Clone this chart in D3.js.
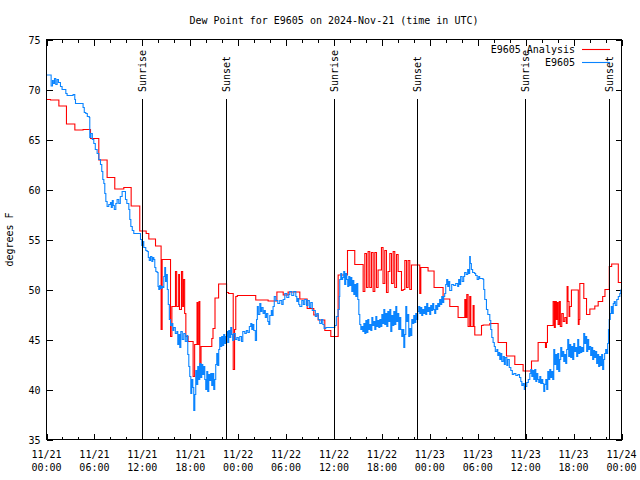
<!DOCTYPE html>
<html><head><meta charset="utf-8">
<script src="https://cdn.jsdelivr.net/npm/d3@7"></script>
<style>
body{margin:0;background:#fff;}
svg{display:block;}
text{font-family:"DejaVu Sans Mono",monospace;font-size:10px;fill:#000;}
</style></head><body>
<svg id="c" width="640" height="480"></svg>
<script>
// ---- data (hours since 2024-11-21 00:00 UTC, degrees F) ----
const obsHours = [0.00,0.58,0.75,0.85,1.00,1.16,1.33,1.50,1.75,1.95,2.42,2.58,3.33,3.54,3.63,4.58,4.73,4.92,5.11,5.36,5.42,5.55,5.74,5.92,6.11,6.34,6.55,6.76,6.92,7.05,7.18,7.30,7.43,7.59,7.80,8.01,8.11,8.24,8.36,8.49,8.68,8.84,9.05,9.24,9.47,9.89,10.06,10.31,10.43,10.56,10.74,10.93,11.77,11.94,12.06,12.18,12.43,12.60,12.75,12.87,13.02,13.19,13.31,13.44,13.56,13.69,13.85,13.97,14.06,14.18,14.31,14.44,14.56,14.69,14.81,14.91,15.03,15.13,15.25,15.38,15.53,15.69,15.82,15.94,16.13,16.32,16.44,16.57,16.69,16.82,17.00,17.19,17.38,17.57,17.69,17.82,17.94,18.07,18.19,18.32,18.44,18.57,18.69,18.82,18.94,19.07,19.19,19.32,19.44,19.57,19.70,19.82,19.94,20.07,20.19,20.32,20.44,20.57,20.69,20.82,20.94,21.07,21.19,21.32,21.44,21.57,21.69,21.82,21.94,22.07,22.19,22.32,22.44,22.57,22.69,22.82,22.94,23.07,23.19,23.32,23.44,23.64,23.83,24.02,24.20,24.42,24.58,24.83,25.02,25.21,25.40,25.58,25.71,25.84,25.96,26.15,26.30,26.40,26.52,26.71,26.84,26.96,27.12,27.27,27.40,27.55,27.71,27.84,27.96,28.15,28.27,28.37,28.52,28.71,28.96,29.21,29.46,29.63,29.84,30.09,30.34,30.46,30.71,30.96,31.22,31.34,31.46,31.59,31.72,31.97,32.16,32.34,32.56,32.72,32.91,33.09,33.28,33.47,33.66,33.85,34.03,34.22,34.44,34.60,34.76,34.97,36.10,36.29,36.51,36.66,36.72,36.85,36.97,37.09,37.22,37.34,37.47,37.60,37.72,37.85,37.98,38.10,38.23,38.36,38.48,38.61,38.73,38.86,38.98,39.11,39.23,39.36,39.49,39.61,39.74,39.86,39.99,40.11,40.24,40.36,40.49,40.61,40.74,40.86,40.99,41.11,41.24,41.36,41.49,41.61,41.74,41.86,41.99,42.11,42.24,42.36,42.49,42.61,42.74,42.86,42.99,43.11,43.24,43.36,43.49,43.61,43.74,43.86,43.99,44.11,44.24,44.36,44.49,44.61,44.74,44.86,44.99,45.11,45.24,45.36,45.49,45.61,45.74,45.86,45.99,46.11,46.24,46.36,46.49,46.61,46.74,46.86,46.99,47.11,47.24,47.36,47.49,47.61,47.74,47.86,47.99,48.11,48.24,48.36,48.49,48.61,48.74,48.86,48.99,49.11,49.23,49.36,49.49,49.61,49.74,49.86,49.99,50.11,50.24,50.36,50.49,50.74,50.99,51.24,51.49,51.61,51.74,51.86,52.05,52.24,52.36,52.55,52.74,52.86,52.99,53.07,53.20,53.36,53.61,53.74,53.93,54.12,54.24,54.49,54.67,54.75,54.88,55.09,55.26,55.51,55.63,55.76,55.92,56.07,56.20,56.39,56.51,56.64,56.76,56.89,57.01,57.18,57.33,57.45,57.64,57.76,57.95,58.14,58.33,58.52,58.77,59.02,59.23,59.39,59.52,59.68,59.83,59.93,60.14,60.33,60.52,60.64,60.77,60.89,61.02,61.14,61.27,61.39,61.52,61.64,61.77,61.89,62.02,62.14,62.27,62.39,62.52,62.64,62.77,62.89,63.02,63.14,63.27,63.39,63.52,63.64,63.77,63.89,64.02,64.14,64.27,64.39,64.52,64.64,64.77,64.89,65.02,65.14,65.27,65.39,65.52,65.64,65.77,65.89,66.02,66.14,66.27,66.39,66.52,66.64,66.77,66.89,67.02,67.14,67.27,67.39,67.52,67.64,67.77,67.89,67.99,68.14,68.27,68.39,68.52,68.64,68.77,68.89,69.02,69.14,69.27,69.39,69.52,69.64,69.77,69.89,70.02,70.14,70.27,70.37,70.46,70.59,70.72,70.84,70.97,71.09,71.22,71.41,71.60,71.79,71.91];
const obsValues = [71.45,70.35,70.9,70.6,71.1,70.5,71.0,70.7,70.3,70.0,69.6,69.4,69.5,69.0,68.6,68.2,67.7,67.6,67.3,67.2,65.2,65.6,65.0,64.6,64.0,63.6,63.0,62.5,61.8,61.0,60.6,59.6,58.8,58.3,58.5,58.7,58.2,58.9,58.4,58.0,58.6,59.0,58.6,59.3,59.8,59.0,58.6,58.0,57.0,56.3,55.9,55.6,55.0,54.4,54.8,54.2,53.9,53.8,53.2,52.9,53.3,52.8,53.2,53.0,52.2,51.8,51.7,50.3,50.0,50.4,50.1,50.3,50.2,51.3,52.2,50.8,51.5,50.0,48.5,47.0,46.4,46.6,45.9,46.2,45.6,45.8,44.5,45.5,44.2,45.8,45.0,45.6,44.8,45.4,43.5,42.3,41.3,39.6,41.0,40.2,37.9,39.5,41.9,40.5,42.3,41.0,42.6,41.2,42.5,41.5,42.3,41.0,40.0,41.8,39.8,41.5,40.9,41.6,40.4,41.6,40.0,41.0,42.5,43.6,42.4,44.0,45.2,44.3,45.3,44.4,45.5,44.6,45.3,45.8,44.7,45.9,45.2,46.2,45.5,44.9,45.6,45.0,45.2,44.9,45.3,44.8,45.8,45.6,45.9,45.7,46.3,46.6,46.0,46.5,45.9,44.9,47.0,48.3,47.5,48.6,47.8,48.2,47.6,47.9,47.2,47.6,46.8,46.5,47.4,47.9,47.4,48.3,49.3,48.9,48.6,48.9,48.5,49.0,49.6,49.2,49.5,49.8,49.4,49.8,49.3,48.8,49.1,48.5,48.3,48.9,48.5,49.0,48.4,48.9,48.2,48.7,47.9,47.9,47.3,47.6,47.0,46.6,47.0,46.5,46.1,46.2,46.4,47.3,48.0,49.3,51.0,51.6,51.0,51.2,51.8,50.5,51.6,51.0,50.3,51.3,50.4,51.2,49.8,50.9,49.5,50.5,49.3,50.6,49.0,47.5,46.5,46.0,46.3,45.8,46.6,45.6,46.9,45.7,47.0,46.0,46.5,45.9,47.2,46.4,46.8,46.0,47.3,46.3,46.9,46.2,47.0,46.3,47.5,46.6,48.0,46.5,47.6,46.3,47.8,46.8,48.0,45.8,47.4,46.4,47.8,46.5,48.3,46.8,47.6,46.0,47.2,46.0,45.3,46.0,44.2,45.5,48.3,46.8,47.5,45.3,46.1,45.4,47.0,46.6,47.4,46.7,47.6,47.0,47.8,48.3,47.6,48.2,47.4,48.0,47.6,48.3,47.5,48.6,47.8,48.2,47.5,48.4,47.9,48.6,48.0,47.6,48.4,48.0,48.6,48.3,49.0,48.5,49.3,48.7,49.3,49.6,50.5,51.0,50.3,50.8,49.9,50.5,50.4,50.6,50.3,51.0,50.5,51.3,50.8,51.3,51.7,51.5,52.0,51.6,53.3,52.6,52.0,51.7,51.6,51.4,51.0,51.3,51.1,51.1,51.0,50.0,49.0,48.0,47.5,46.9,46.0,45.2,44.7,44.3,43.8,44.0,43.4,43.7,43.0,43.6,42.8,43.3,42.5,43.2,42.4,43.0,42.2,41.9,41.5,41.6,41.4,41.5,41.2,40.8,40.4,40.6,40.0,40.3,40.7,41.0,41.6,42.0,41.3,41.9,41.0,42.0,40.8,41.6,41.0,40.7,41.3,40.6,41.0,40.6,39.8,40.5,41.0,40.0,41.8,41.0,42.0,41.2,41.8,41.0,44.0,42.5,43.5,42.0,43.6,41.8,43.0,44.2,43.3,43.8,42.8,43.5,42.6,44.0,45.0,43.3,44.5,43.2,44.3,43.0,44.6,43.8,44.2,43.3,45.0,43.6,44.3,43.7,44.2,43.8,45.6,44.6,45.3,43.8,45.0,44.0,44.3,43.4,44.2,43.0,43.9,43.2,43.8,42.6,43.5,42.3,43.3,42.4,43.5,42.0,43.0,43.6,44.0,43.6,44.6,46.0,47.0,47.6,48.3,47.6,48.6,48.8,48.4,49.0,49.3,49.6,50.0];

const anaHours = [0.00,0.50,1.55,2.50,3.55,4.58,5.51,6.55,7.59,8.55,9.68,10.60,11.68,12.48,12.81,13.65,14.35,14.48,15.53,15.70,16.05,16.15,16.30,16.55,16.65,16.90,17.05,17.15,17.30,17.45,17.73,18.36,18.55,18.85,18.95,19.10,19.20,19.35,20.70,20.85,21.10,21.55,22.55,22.80,23.38,23.55,23.70,23.90,26.20,27.75,28.85,29.64,30.25,31.72,32.64,33.47,34.02,34.85,35.60,36.52,37.69,38.60,39.65,39.86,40.07,40.27,40.48,40.69,40.90,41.11,41.32,41.52,41.94,42.14,42.36,42.57,42.77,42.99,43.20,43.41,43.61,43.83,44.03,44.45,44.65,44.87,45.08,45.28,45.49,45.70,46.74,46.87,47.78,48.53,49.66,50.50,51.54,52.38,52.50,52.63,52.79,53.00,53.13,53.42,53.54,53.63,54.47,54.67,55.51,56.55,57.60,58.64,59.68,60.73,61.56,62.48,62.60,62.73,63.44,63.59,63.71,63.84,63.96,64.06,64.21,64.34,64.52,64.71,64.90,65.09,65.19,65.30,65.43,65.52,65.73,66.59,66.69,66.78,67.28,67.62,68.04,68.66,69.08,69.64,69.93,70.47,70.77,71.60,72.00];
const anaValues = [69.0,68.95,68.35,66.55,65.95,66.0,65.1,62.95,61.2,60.05,60.2,58.35,55.85,55.6,55.05,54.35,46.0,53.0,45.3,48.3,48.3,51.8,48.3,51.5,48.0,51.8,48.3,51.0,47.6,45.3,44.8,41.3,44.5,48.7,44.5,48.8,42.3,44.3,45.1,46.1,49.15,50.55,49.7,49.6,42.0,46.0,49.3,49.4,48.95,48.85,49.75,49.45,49.75,49.05,48.1,47.45,46.95,45.9,45.3,51.45,53.9,52.5,49.8,53.6,50.2,53.8,50.2,53.7,49.8,53.7,50.2,51.95,54.2,50.6,53.9,49.7,51.8,53.6,50.6,53.8,50.2,53.5,51.8,49.9,50.0,52.9,50.2,52.9,50.0,52.45,49.6,52.2,51.85,50.2,49.05,48.3,47.2,49.0,47.2,49.5,46.3,49.3,46.3,48.4,46.3,45.45,46.4,46.45,46.6,44.7,43.35,42.5,41.85,42.85,44.7,44.2,44.7,46.4,48.8,46.2,48.8,47.0,48.7,46.5,48.8,46.3,47.6,46.8,47.2,46.6,50.3,48.8,47.3,48.3,49.95,46.5,47.0,50.6,49.1,47.5,48.05,48.35,48.8,49.3,50.0,52.3,52.55,50.7,50.7];

const sunHours = [11.97, 22.47, 36.00, 46.43, 59.95, 70.45];
const sunLabels = ["Sunrise","Sunset","Sunrise","Sunset","Sunrise","Sunset"];
const xTickHours = [0,6,12,18,24,30,36,42,48,54,60,66,72];
const xTickDates = ["11/21","11/21","11/21","11/21","11/22","11/22","11/22","11/22","11/23","11/23","11/23","11/23","11/24"];
const xTickTimes = ["00:00","06:00","12:00","18:00","00:00","06:00","12:00","18:00","00:00","06:00","12:00","18:00","00:00"];
const yTicks = [35,40,45,50,55,60,65,70,75];
const seriesNames = ["E9605 Analysis","E9605"];
const seriesColors = ["#ff0000","#0a84ff"];

// ---- chart ----
const svg = d3.select("#c");
const L = 46.5, R = 621.5, T = 39.5, B = 439.5;
const x = d3.scaleLinear().domain([0,72]).range([L,R]);
const y = d3.scaleLinear().domain([35,75]).range([B,T]);

svg.append("text").attr("x",(L+R)/2).attr("y",24).attr("text-anchor","middle")
  .text("Dew Point for E9605 on 2024-Nov-21 (time in UTC)");
svg.append("text").attr("transform",`translate(13,${(T+B)/2}) rotate(-90)`)
  .attr("text-anchor","middle").text("degrees F");

// axes (ticks inward, mirrored)
svg.append("g").attr("transform",`translate(0,${B})`)
  .call(d3.axisBottom(x).tickValues(xTickHours).tickSize(-6).tickFormat(""));
svg.append("g").attr("transform",`translate(0,${B})`)
  .call(d3.axisBottom(x).tickValues(d3.range(0,73,2)).tickSize(-3).tickFormat(""));
svg.append("g").attr("transform",`translate(0,${T})`)
  .call(d3.axisTop(x).tickValues(xTickHours).tickSize(-6).tickFormat(""));
svg.append("g").attr("transform",`translate(0,${T})`)
  .call(d3.axisTop(x).tickValues(d3.range(0,73,2)).tickSize(-3).tickFormat(""));
svg.append("g").attr("transform",`translate(${L},0)`)
  .call(d3.axisLeft(y).tickValues(yTicks).tickSize(-6).tickFormat(""));
svg.append("g").attr("transform",`translate(${R},0)`)
  .call(d3.axisRight(y).tickValues(yTicks).tickSize(-6).tickFormat(""));
svg.selectAll(".domain").remove();
svg.selectAll(".tick line").attr("stroke","#000").attr("shape-rendering","crispEdges");

// tick labels
xTickHours.forEach((h,i)=>{
  const t = svg.append("text").attr("text-anchor","middle");
  t.append("tspan").attr("x",x(h)).attr("y",458).text(xTickDates[i]);
  t.append("tspan").attr("x",x(h)).attr("y",471).text(xTickTimes[i]);
});
yTicks.forEach(v=>{
  svg.append("text").attr("x",L-6).attr("y",y(v)+4).attr("text-anchor","end").text(v);
});

// series
const line = d3.line().x(d=>x(d[0])).y(d=>y(d[1])).curve(d3.curveStepAfter);
svg.append("clipPath").attr("id","pc").append("rect")
  .attr("x",L).attr("y",T).attr("width",R-L).attr("height",B-T);
const anaData = anaHours.map((h,i)=>[h,anaValues[i]]);
const obsData = obsHours.map((h,i)=>[h,obsValues[i]]);
svg.append("path").datum(anaData).attr("d",line).attr("fill","none")
  .attr("stroke",seriesColors[0]).attr("stroke-width",1.1).attr("clip-path","url(#pc)");
svg.append("path").datum(obsData).attr("d",line).attr("fill","none")
  .attr("stroke",seriesColors[1]).attr("stroke-width",1.1).attr("clip-path","url(#pc)");

// sunrise / sunset markers
sunHours.forEach((h,i)=>{
  svg.append("line").attr("x1",Math.round(x(h))+0.5).attr("x2",Math.round(x(h))+0.5)
    .attr("y1",99).attr("y2",B).attr("stroke","#000").attr("stroke-width",1)
    .attr("shape-rendering","crispEdges");
  svg.append("text").attr("transform",`translate(${x(h)+4},92) rotate(-90)`)
    .text(sunLabels[i]);
});

// legend
seriesNames.forEach((n,i)=>{
  const ly = 49 + i*13;
  svg.append("text").attr("x",575).attr("y",ly+4).attr("text-anchor","end").text(n);
  svg.append("line").attr("x1",582).attr("x2",610).attr("y1",ly+0.5).attr("y2",ly+0.5)
    .attr("stroke",seriesColors[i]).attr("stroke-width",1.1);
});

// border
svg.append("rect").attr("x",L).attr("y",T).attr("width",R-L).attr("height",B-T)
  .attr("fill","none").attr("stroke","#000").attr("stroke-width",1).attr("shape-rendering","crispEdges");
</script></body></html>
